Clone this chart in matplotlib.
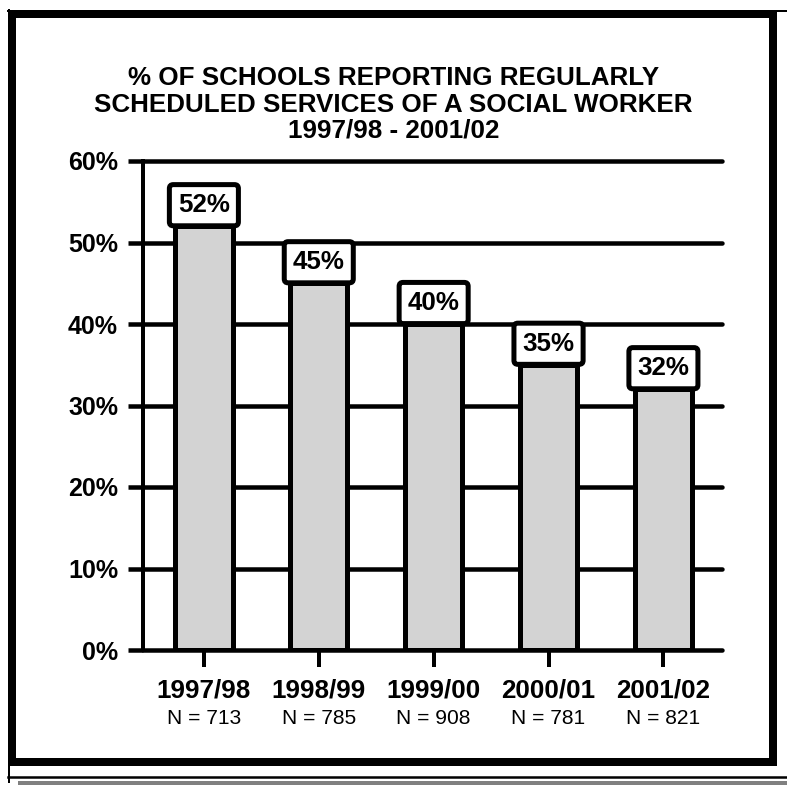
import matplotlib
matplotlib.use("Agg")
import matplotlib.pyplot as plt
from matplotlib.lines import Line2D
from matplotlib.patches import Rectangle

plt.rcParams['font.family'] = ['Liberation Sans', 'DejaVu Sans']

# data
years = ['1997/98', '1998/99', '1999/00', '2000/01', '2001/02']
sample_n = [713, 785, 908, 781, 821]
pct = [52, 45, 40, 35, 32]
yticks = [0, 10, 20, 30, 40, 50, 60]

W, H = 787, 785
fig = plt.figure(figsize=(W / 72, H / 72), dpi=72)


def fx(x):
    return x / W


def fy(y):
    return 1 - y / H


# outer frame (pixel positions from the reference)
fig.add_artist(Rectangle((fx(12), fy(762)), fx(773) - fx(12), fy(14) - fy(762),
                         transform=fig.transFigure, fill=False, ec='black', lw=8))
fig.add_artist(Line2D([fx(8), fx(787)], [fy(11), fy(11)], transform=fig.transFigure, color='black', lw=2))
fig.add_artist(Line2D([fx(8.5), fx(8.5)], [fy(10), fy(782)], transform=fig.transFigure, color='black', lw=2))
fig.add_artist(Line2D([fx(8), fx(787)], [fy(777), fy(777)], transform=fig.transFigure, color='black', lw=2.5))
fig.add_artist(Line2D([fx(20), fx(787)], [fy(782.5), fy(782.5)], transform=fig.transFigure, color='#808080', lw=4))

fig.text(0.5, fy(104.5), '% OF SCHOOLS REPORTING REGULARLY\nSCHEDULED SERVICES OF A SOCIAL WORKER\n1997/98 - 2001/02',
         ha='center', va='center', fontsize=26, fontweight='bold', linespacing=1.13)

ax = fig.add_axes([fx(143), fy(650), fx(722) - fx(143), fy(161) - fy(650)])
x = list(range(len(years)))

for v in yticks:
    ax.axhline(v, color='black', lw=4.5, zorder=1, clip_on=False, solid_capstyle='round')

ax.bar(x, pct, width=0.5, color='#d3d3d3', edgecolor='black', lw=5, zorder=2)

for i, v in enumerate(pct):
    ax.annotate(f'{v}%', xy=(i, v), xytext=(0, 9), textcoords='offset points',
                ha='center', va='bottom', fontsize=26, fontweight='bold', zorder=4,
                bbox=dict(boxstyle='round,pad=0.33,rounding_size=0.15', fc='white', ec='black', lw=5))
    ax.annotate(f'N = {sample_n[i]}', xy=(i, 0), xycoords=('data', 'axes fraction'),
                xytext=(0, -68), textcoords='offset points', ha='center', va='center', fontsize=21)

ax.set_xlim(-0.53, 4.51)
ax.set_ylim(0, 60)
ax.set_yticks(yticks)
ax.set_yticklabels([f'{v}%' for v in yticks], fontsize=25, fontweight='bold')
ax.set_xticks(x)
ax.set_xticklabels(years, fontsize=26, fontweight='bold')
ax.tick_params(axis='y', length=15, width=4.5, pad=10)
ax.tick_params(axis='x', length=17, width=4, pad=12)
for s in ['top', 'right', 'bottom']:
    ax.spines[s].set_visible(False)
ax.spines['left'].set_linewidth(4)
ax.spines['left'].set_zorder(3)

fig.savefig('out.png', dpi=72)
